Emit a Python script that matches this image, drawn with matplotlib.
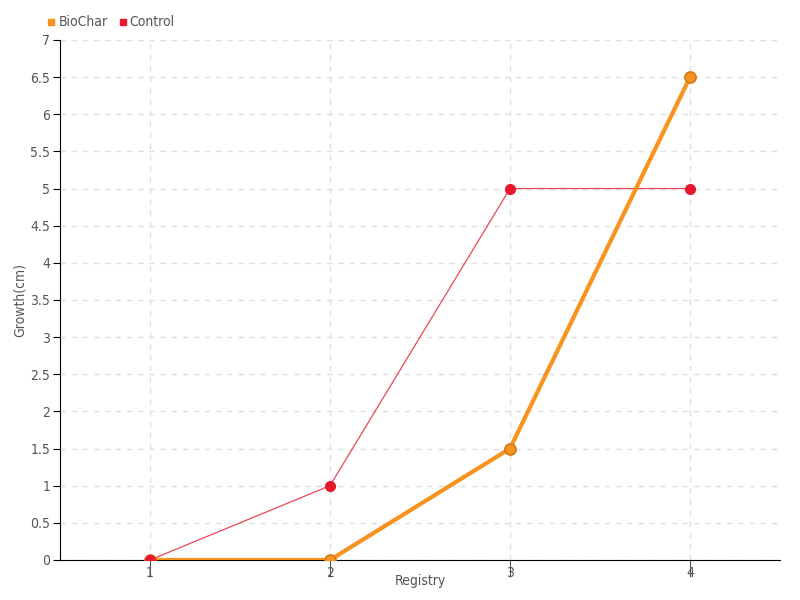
import matplotlib.pyplot as plt
from matplotlib.ticker import FuncFormatter
from matplotlib.lines import Line2D

# dados
registros = [1, 2, 3, 4]
biochar = [0, 0, 1.5, 6.5]
controle = [0, 1, 5, 5]
yticks = [0, 0.5, 1, 1.5, 2, 2.5, 3, 3.5, 4, 4.5, 5, 5.5, 6, 6.5, 7]

cor_bio = '#f7931e'
cor_ctrl = '#e8192c'
cor_texto = '#555555'

plt.rcParams['font.family'] = ['DejaVu Sans']
plt.rcParams['font.stretch'] = 'condensed'

fig = plt.figure(figsize=(8, 6), dpi=100)
ax = fig.add_axes([0.075, 0.0667, 0.9, 0.8667])

# linha do controle (fina, por baixo)
ax.plot(registros, controle, color=cor_ctrl, lw=0.9, alpha=0.8, zorder=2)
# biochar
ax.plot(registros, biochar, color=cor_bio, lw=3, marker='o', markersize=8,
        markerfacecolor=cor_bio, markeredgecolor='#d07a1a', markeredgewidth=1.2, zorder=3)
# marcadores do controle por cima
ax.plot(registros, controle, ls='none', marker='o', markersize=7,
        color=cor_ctrl, zorder=4)

ax.set_xlim(0.5, 4.5)
ax.set_ylim(0, 7)
ax.set_xticks(registros)
ax.set_yticks(yticks)
ax.yaxis.set_major_formatter(FuncFormatter(lambda v, p: '%g' % v))

ax.spines['top'].set_visible(False)
ax.spines['right'].set_visible(False)

ax.grid(True, color='#e0e0e0', ls=(0, (4, 4)), lw=1)
ax.set_axisbelow(True)

ax.tick_params(axis='both', colors='black', labelcolor=cor_texto, labelsize=10)
ax.tick_params(axis='y', length=5, pad=2)
ax.tick_params(axis='x', length=12, pad=-8, color='#555555')

ax.set_xlabel('Registry', color=cor_texto, fontsize=10)
ax.set_ylabel('Growth(cm)', color=cor_texto, fontsize=10)
ax.xaxis.set_label_coords(0.5, -0.027)
ax.yaxis.set_label_coords(-0.046, 0.5)

handles = [Line2D([], [], ls='none', marker='s', markersize=5, color=cor_bio),
           Line2D([], [], ls='none', marker='s', markersize=5, color=cor_ctrl)]
fig.legend(handles, ['BioChar', 'Control'], loc='upper left',
           bbox_to_anchor=(0.04, 0.995), ncol=2, frameon=False,
           handletextpad=0.0, columnspacing=0.6, handlelength=1,
           labelcolor=cor_texto, fontsize=10)

plt.savefig('out.png', dpi=100)
